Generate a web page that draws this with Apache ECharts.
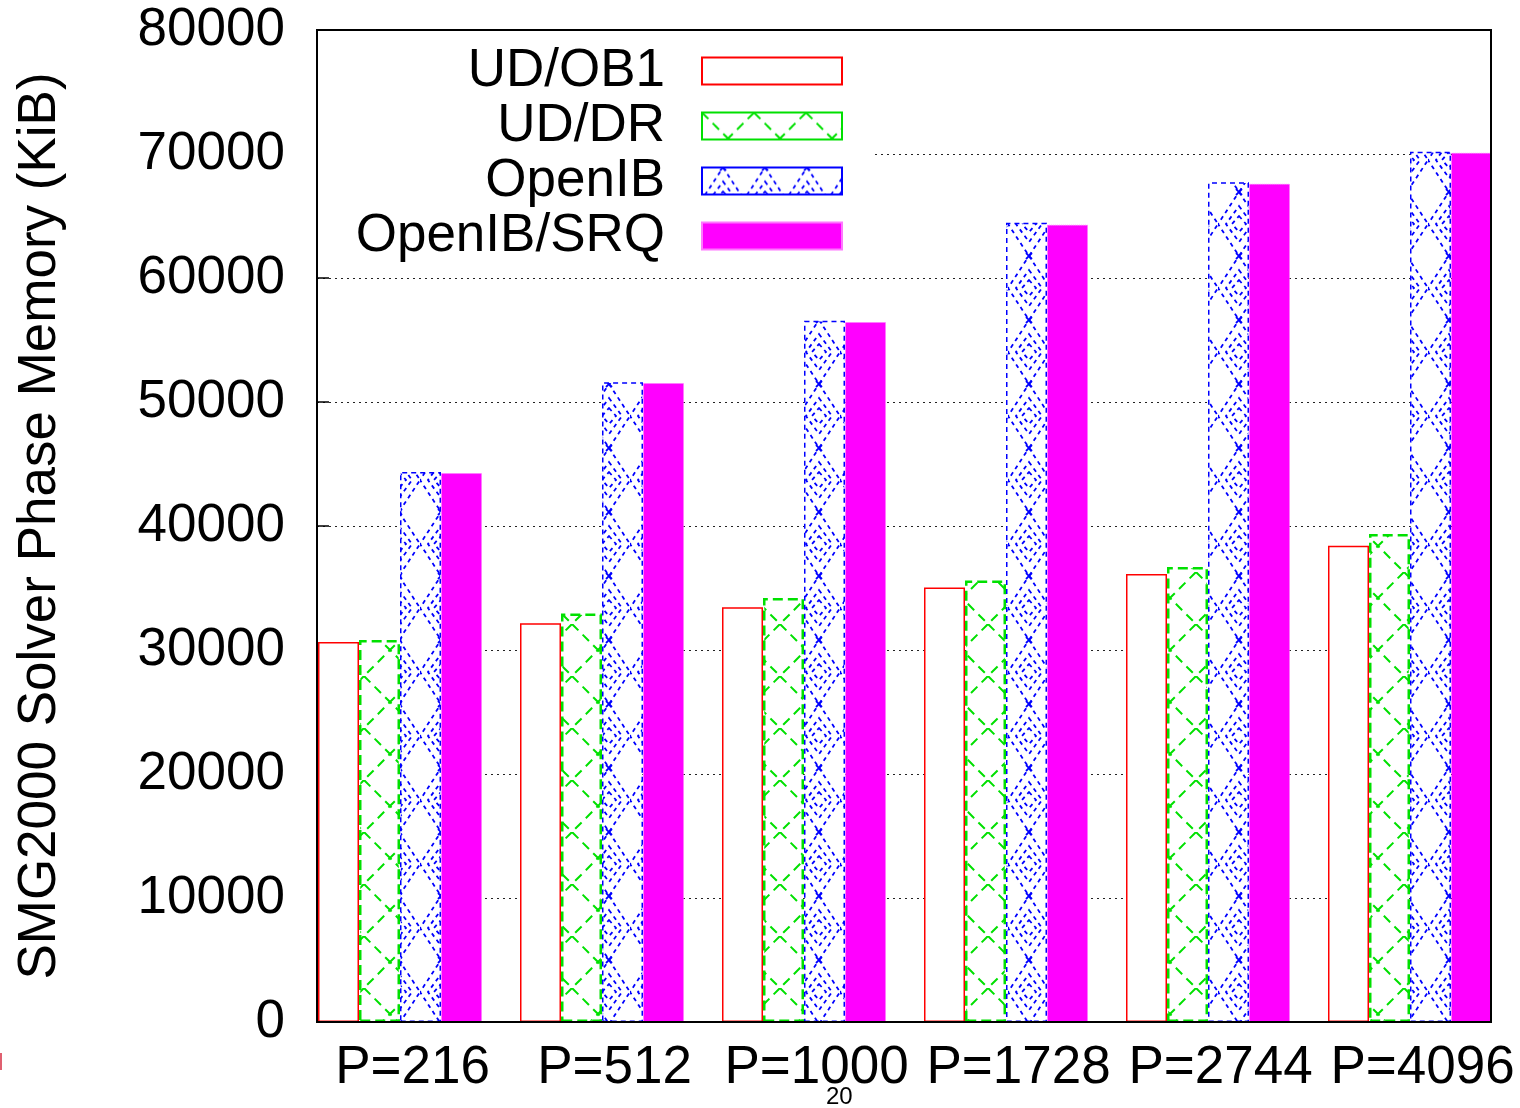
<!DOCTYPE html>
<html>
<head>
<meta charset="utf-8">
<title>SMG2000 Solver Phase Memory</title>
<script src="https://cdn.jsdelivr.net/npm/echarts@6/dist/echarts.min.js"></script>
<style>
  html, body { margin: 0; padding: 0; background: #fff; }
  #chart { width: 1520px; height: 1108px; }
</style>
</head>
<body>
<div id="chart"></div>
<script>
// data (KiB)
var categories = ['P=216', 'P=512', 'P=1000', 'P=1728', 'P=2744', 'P=4096'];
var udOb1 = [30650, 32150, 33450, 35050, 36130, 38400];
var udDr = [30800, 32950, 34200, 35600, 36700, 39350];
var openIb = [44350, 51600, 56550, 64450, 67720, 70190];
var openIbSrq = [44270, 51530, 56450, 64300, 67600, 70100];
var yTicks = [0, 10000, 20000, 30000, 40000, 50000, 60000, 70000, 80000];

var FONT = "'Liberation Sans', Arial, sans-serif";
var FS = 53;

// pattern tiles
function makeTile(w, h, draw) {
    var c = document.createElement('canvas');
    c.width = w;
    c.height = h;
    var ctx = c.getContext('2d');
    ctx.fillStyle = '#fff';
    ctx.fillRect(0, 0, w, h);
    draw(ctx);
    return c;
}

var greenTile = makeTile(52, 52, function(ctx) {
    ctx.strokeStyle = '#00e000';
    ctx.lineWidth = 2;
    ctx.setLineDash([9, 6]);
    ctx.beginPath();
    ctx.moveTo(0, 0); ctx.lineTo(52, 52);
    ctx.moveTo(52, 0); ctx.lineTo(0, 52);
    ctx.stroke();
});

var blueTile = makeTile(42, 64, function(ctx) {
    ctx.strokeStyle = '#0000ff';
    ctx.lineWidth = 1.8;
    ctx.setLineDash([4, 4]);
    ctx.beginPath();
    ctx.moveTo(21, 0); ctx.lineTo(42, 32); ctx.lineTo(21, 64); ctx.lineTo(0, 32); ctx.closePath();
    ctx.moveTo(21, 14); ctx.lineTo(34, 32); ctx.lineTo(21, 50); ctx.lineTo(8, 32); ctx.closePath();
    ctx.moveTo(21, 24); ctx.lineTo(28, 32); ctx.lineTo(21, 40); ctx.lineTo(14, 32); ctx.closePath();
    ctx.stroke();
    ctx.setLineDash([]);
    ctx.beginPath();
    // little x marks where the lattice lines cross
    ctx.moveTo(18, -3); ctx.lineTo(24, 3); ctx.moveTo(24, -3); ctx.lineTo(18, 3);
    ctx.moveTo(18, 61); ctx.lineTo(24, 67); ctx.moveTo(24, 61); ctx.lineTo(18, 67);
    ctx.stroke();
});

var myChart = echarts.init(document.getElementById('chart'));

var option = {
    backgroundColor: '#fff',
    animation: false,
    grid: [
        // frame grid (gnuplot border)
        { left: 317, right: 29, top: 30, bottom: 86 },
        // bars grid, a bit wider so groups sit like in the original
        { left: 299, right: 9, top: 30, bottom: 86 }
    ],
    legend: {
        orient: 'vertical',
        align: 'right',
        right: 677,
        top: 44,
        padding: 0,
        itemGap: 1,
        itemWidth: 140,
        itemHeight: 27,
        icon: 'rect',
        selectedMode: false,
        textStyle: {
            fontFamily: FONT,
            fontSize: FS,
            color: '#000',
            lineHeight: 54,
            padding: [0, 32, 0, 0]
        },
        data: ['UD/OB1', 'UD/DR', 'OpenIB', 'OpenIB/SRQ']
    },
    xAxis: [
        { type: 'category', gridIndex: 0, data: categories, show: false },
        {
            type: 'category',
            gridIndex: 1,
            data: categories,
            axisLine: { show: false },
            axisTick: { show: false },
            axisLabel: {
                interval: 0,
                fontFamily: FONT,
                fontSize: FS,
                color: '#000',
                margin: 20,
                padding: [0, 0, 0, 25]
            }
        }
    ],
    yAxis: [
        {
            type: 'value',
            gridIndex: 0,
            min: 0,
            max: 80000,
            interval: 10000,
            name: 'SMG2000 Solver Phase Memory (KiB)',
            nameLocation: 'middle',
            nameGap: 250,
            nameTextStyle: { fontFamily: FONT, fontSize: FS, color: '#000' },
            axisLine: { show: false },
            axisTick: { show: true, inside: true, length: 12, lineStyle: { color: '#000', width: 1.5 } },
            axisLabel: {
                fontFamily: FONT,
                fontSize: FS,
                color: '#000',
                margin: 32,
                formatter: function(v) { return yTicks.indexOf(v) >= 0 ? String(v) : ''; }
            },
            splitLine: { show: true, lineStyle: { color: '#222', width: 1, type: [2, 4] } }
        },
        { type: 'value', gridIndex: 1, min: 0, max: 80000, show: false }
    ],
    series: [
        {
            name: 'UD/OB1', type: 'bar', xAxisIndex: 1, yAxisIndex: 1,
            barWidth: 41, barGap: '0%',
            itemStyle: { color: '#fff', borderColor: '#ff0000', borderWidth: 1.5 },
            data: udOb1
        },
        {
            name: 'UD/DR', type: 'bar', xAxisIndex: 1, yAxisIndex: 1,
            barWidth: 41, barGap: '0%',
            itemStyle: {
                color: { image: greenTile, repeat: 'repeat' },
                borderColor: '#00e000', borderWidth: 2.5, borderType: [10, 5]
            },
            data: udDr
        },
        {
            name: 'OpenIB', type: 'bar', xAxisIndex: 1, yAxisIndex: 1,
            barWidth: 41, barGap: '0%',
            itemStyle: {
                color: { image: blueTile, repeat: 'repeat' },
                borderColor: '#0000ff', borderWidth: 1.5, borderType: [5, 4]
            },
            data: openIb
        },
        {
            name: 'OpenIB/SRQ', type: 'bar', xAxisIndex: 1, yAxisIndex: 1,
            barWidth: 41, barGap: '0%',
            itemStyle: { color: '#ff00ff', borderColor: '#ff77ff', borderWidth: 1, borderType: 'dotted' },
            data: openIbSrq
        }
    ],
    graphic: [
        // key area is blanked like gnuplot does
        { type: 'rect', z: 1, silent: true, shape: { x: 318, y: 31, width: 557, height: 232 }, style: { fill: '#fff' } },
        // plot border on top of bars
        { type: 'rect', z: 50, silent: true, shape: { x: 317, y: 30, width: 1174, height: 992 }, style: { fill: 'none', stroke: '#000', lineWidth: 2 } },
        // page number
        { type: 'text', z: 50, left: 826, top: 1085, style: { text: '20', font: '24px ' + FONT, fill: '#000' } },
        // red sliver on the left edge
        { type: 'rect', z: 50, silent: true, shape: { x: 0, y: 1053, width: 2, height: 17 }, style: { fill: '#e06070' } }
    ]
};

myChart.setOption(option);
</script>
</body>
</html>
